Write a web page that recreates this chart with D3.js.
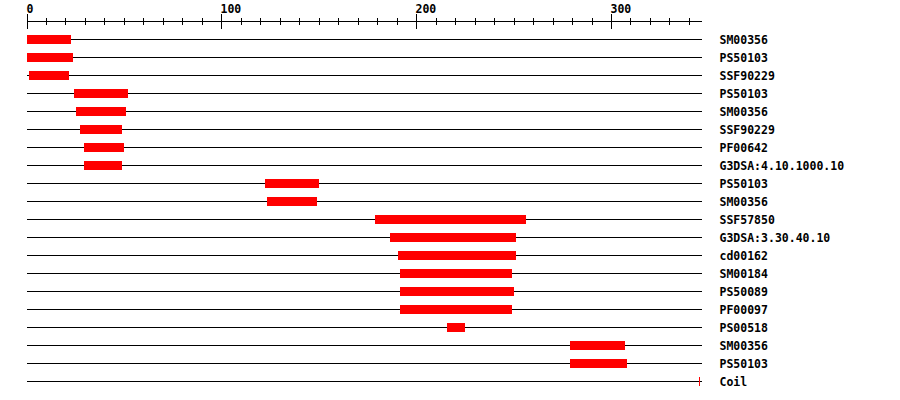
<!DOCTYPE html>
<html>
<head>
<meta charset="utf-8">
<script src="https://cdn.jsdelivr.net/npm/d3@7"></script>
<style>
  html, body { margin: 0; padding: 0; background: #fff; }
  #chart svg { display: block; }
  text { font-family: "DejaVu Sans Mono", "Liberation Mono", monospace; font-weight: bold; font-size: 11.5px; fill: #000; }
</style>
</head>
<body>
<div id="chart"></div>
<script>
// ------- data -------
const labels = [
  "SM00356", "PS50103", "SSF90229", "PS50103", "SM00356", "SSF90229", "PF00642",
  "G3DSA:4.10.1000.10", "PS50103", "SM00356", "SSF57850", "G3DSA:3.30.40.10",
  "cd00162", "SM00184", "PS50089", "PF00097", "PS00518", "SM00356", "PS50103", "Coil"
];
// match start / end positions (residues); Coil row has no block
const starts = [0.3, 0.3, 1.3, 24.4, 25.4, 27.5, 29.5, 29.5, 122.4, 123.5, 178.9, 186.6, 190.7, 191.7, 191.7, 191.7, 215.9, 279, 279, null];
const ends   = [22.8, 23.9, 21.8, 52.1, 51.1, 49, 50, 49, 150.2, 149.1, 256.4, 251.3, 251.3, 249.2, 250.3, 249.2, 225.1, 307.2, 308.3, null];
const coilMarks = [345];
const seqLength = 346.5;
const majorTicks = [0, 100, 200, 300];
const minorTicks = d3.range(0, 341, 10);

// ------- layout -------
const width = 900, height = 400;
const svg = d3.select("#chart").append("svg")
  .attr("width", width).attr("height", height);

const x = d3.scaleLinear().domain([0, seqLength]).range([26.5, 701.6]);
const y = d3.scalePoint().domain(d3.range(labels.length)).range([39.5, 381.5]);
const axisY = 21.5;

// ruler
const ruler = svg.append("g").attr("shape-rendering", "crispEdges");
ruler.append("line")
  .attr("x1", x(0)).attr("x2", x(seqLength))
  .attr("y1", axisY).attr("y2", axisY)
  .attr("stroke", "#000");
ruler.selectAll("line.minor")
  .data(minorTicks.filter(t => !majorTicks.includes(t)))
  .enter().append("line")
  .attr("class", "minor")
  .attr("x1", d => Math.round(x(d)) + 0.5).attr("x2", d => Math.round(x(d)) + 0.5)
  .attr("y1", 18).attr("y2", 25)
  .attr("stroke", "#000");
ruler.selectAll("line.major")
  .data(majorTicks)
  .enter().append("line")
  .attr("class", "major")
  .attr("x1", d => Math.round(x(d)) + 0.5).attr("x2", d => Math.round(x(d)) + 0.5)
  .attr("y1", 14).attr("y2", 29)
  .attr("stroke", "#000");
svg.selectAll("text.tick")
  .data(majorTicks)
  .enter().append("text")
  .attr("class", "tick")
  .attr("x", d => Math.round(x(d)) - 0.5)
  .attr("y", 12.5)
  .text(d => d);

// rows
const rows = svg.append("g").attr("shape-rendering", "crispEdges");
rows.selectAll("line.row")
  .data(labels)
  .enter().append("line")
  .attr("class", "row")
  .attr("x1", x(0)).attr("x2", x(seqLength))
  .attr("y1", (d, i) => y(i)).attr("y2", (d, i) => y(i))
  .attr("stroke", "#000");

rows.selectAll("rect.match")
  .data(labels.map((l, i) => ({ i, s: starts[i], e: ends[i] })).filter(d => d.s != null))
  .enter().append("rect")
  .attr("class", "match")
  .attr("x", d => Math.round(x(d.s)))
  .attr("width", d => Math.round(x(d.e)) - Math.round(x(d.s)))
  .attr("y", d => y(d.i) - 4.5)
  .attr("height", 9)
  .attr("fill", "#ff0000");

// coil marks on the last row
rows.selectAll("line.coil")
  .data(coilMarks)
  .enter().append("line")
  .attr("class", "coil")
  .attr("x1", d => Math.round(x(d)) + 0.5).attr("x2", d => Math.round(x(d)) + 0.5)
  .attr("y1", y(labels.length - 1) - 4.5).attr("y2", y(labels.length - 1) + 4.5)
  .attr("stroke", "#ff0000");

svg.selectAll("text.label")
  .data(labels)
  .enter().append("text")
  .attr("class", "label")
  .attr("x", 719.5)
  .attr("y", (d, i) => y(i) + 4.5)
  .text(d => d);
</script>
</body>
</html>
